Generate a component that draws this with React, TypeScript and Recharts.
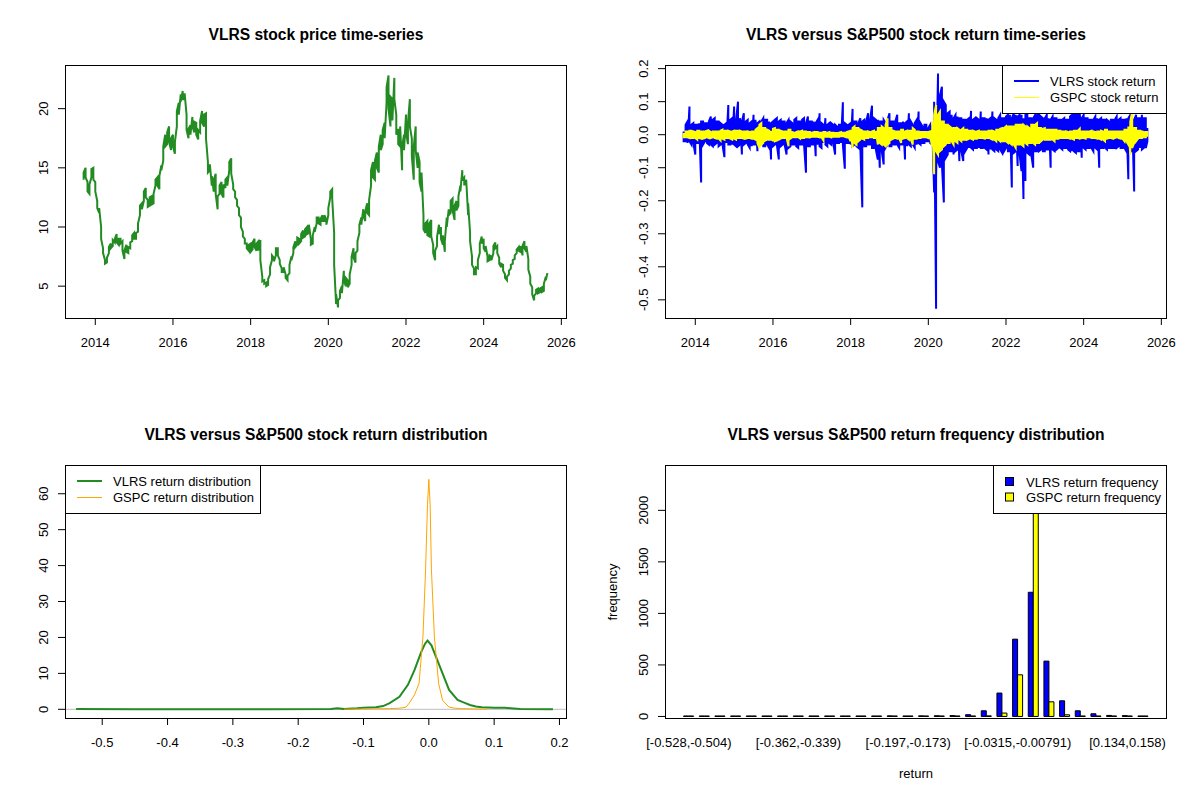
import React from 'react';
import { LineChart, Line, XAxis, YAxis, BarChart, Bar, ReferenceLine, Legend } from 'recharts';

const FONT = '"Liberation Sans", Arial, Helvetica, sans-serif';

// ---- time axis (decimal years) ----
const dates = [
  2013.70, 2013.75, 2013.80, 2013.85, 2013.90, 2013.95,
  2014.00, 2014.05, 2014.10, 2014.15, 2014.20, 2014.25, 2014.30, 2014.35, 2014.40, 2014.45, 2014.50, 2014.55, 2014.60, 2014.65, 2014.70, 2014.75, 2014.80, 2014.85, 2014.90, 2014.95,
  2015.00, 2015.05, 2015.10, 2015.15, 2015.20, 2015.25, 2015.30, 2015.35, 2015.40, 2015.45, 2015.50, 2015.55, 2015.60, 2015.65, 2015.70, 2015.75, 2015.80, 2015.85, 2015.90, 2015.95,
  2016.00, 2016.05, 2016.10, 2016.15, 2016.20, 2016.25, 2016.30, 2016.35, 2016.40, 2016.45, 2016.50, 2016.55, 2016.60, 2016.65, 2016.70, 2016.75, 2016.80, 2016.85, 2016.90, 2016.95,
  2017.00, 2017.05, 2017.10, 2017.15, 2017.20, 2017.25, 2017.30, 2017.35, 2017.40, 2017.45, 2017.50, 2017.55, 2017.60, 2017.65, 2017.70, 2017.75, 2017.80, 2017.85, 2017.90, 2017.95,
  2018.00, 2018.05, 2018.10, 2018.15, 2018.20, 2018.25, 2018.30, 2018.35, 2018.40, 2018.45, 2018.50, 2018.55, 2018.60, 2018.65, 2018.70, 2018.75, 2018.80, 2018.85, 2018.90, 2018.95,
  2019.00, 2019.05, 2019.10, 2019.15, 2019.20, 2019.25, 2019.30, 2019.35, 2019.40, 2019.45, 2019.50, 2019.55, 2019.60, 2019.65, 2019.70, 2019.75, 2019.80, 2019.85, 2019.90, 2019.95,
  2020.00, 2020.05, 2020.10, 2020.15, 2020.20, 2020.25, 2020.30, 2020.35, 2020.40, 2020.45, 2020.50, 2020.55, 2020.60, 2020.65, 2020.70, 2020.75, 2020.80, 2020.85, 2020.90, 2020.95,
  2021.00, 2021.05, 2021.10, 2021.15, 2021.20, 2021.25, 2021.30, 2021.35, 2021.40, 2021.45, 2021.50, 2021.55, 2021.60, 2021.65, 2021.70, 2021.75, 2021.80, 2021.85, 2021.90, 2021.95,
  2022.00, 2022.05, 2022.10, 2022.15, 2022.20, 2022.25, 2022.30, 2022.35, 2022.40, 2022.45, 2022.50, 2022.55, 2022.60, 2022.65, 2022.70, 2022.75, 2022.80, 2022.85, 2022.90, 2022.95,
  2023.00, 2023.05, 2023.10, 2023.15, 2023.20, 2023.25, 2023.30, 2023.35, 2023.40, 2023.45, 2023.50, 2023.55, 2023.60, 2023.65, 2023.70, 2023.75, 2023.80, 2023.85, 2023.90, 2023.95,
  2024.00, 2024.05, 2024.10, 2024.15, 2024.20, 2024.25, 2024.30, 2024.35, 2024.40, 2024.45, 2024.50, 2024.55, 2024.60, 2024.65, 2024.70, 2024.75, 2024.80, 2024.85, 2024.90, 2024.95,
  2025.00, 2025.05, 2025.10, 2025.15, 2025.20, 2025.25, 2025.30, 2025.35, 2025.40, 2025.45, 2025.50, 2025.55, 2025.60, 2025.64,
];

// first and second price reading in each period
const vlrsPrice = [
  14.0, 15.0, 13.8, 12.8, 14.2, 15.0,
  13.8, 12.2, 11.2, 10.0, 8.2, 7.2, 7.0, 7.8, 8.6, 8.4, 8.7, 9.4, 8.5, 9.0, 8.8, 7.3, 8.5, 7.8, 8.2, 8.8,
  9.5, 9.0, 9.6, 11.0, 12.0, 12.2, 13.3, 12.3, 11.8, 12.6, 12.0, 13.5, 14.2, 13.2, 15.2, 15.6, 17.8, 17.0, 18.5, 16.5,
  17.8, 16.2, 18.5, 20.5, 21.2, 21.5, 20.8, 19.5, 17.5, 18.6, 19.3, 18.0, 18.8, 17.4, 18.0, 19.8, 18.5, 19.6, 15.5, 14.8,
  13.5, 13.0, 14.5, 11.5, 12.8, 13.8, 12.5, 13.3, 14.2, 14.8, 15.8, 13.6, 13.0, 12.3, 11.6, 10.8, 9.6, 9.0, 8.6, 8.0,
  8.6, 8.1, 9.0, 8.0, 8.8, 8.9, 5.8, 5.5, 5.3, 5.1, 6.0, 7.2, 7.4, 7.6, 8.2, 7.2, 6.5, 6.2, 6.0, 5.5,
  6.1, 7.5, 7.8, 8.8, 8.5, 9.0, 8.8, 9.7, 9.2, 10.0, 9.5, 9.0, 8.6, 10.0, 10.3, 10.8, 10.2, 11.0, 10.5, 10.6,
  11.0, 12.5, 13.2, 9.5, 3.5, 3.2, 4.0, 5.0, 6.3, 5.0, 5.5, 5.2, 6.8, 8.2, 7.0, 8.0, 9.5, 10.8, 11.5, 10.5,
  12.0, 11.0, 13.5, 15.5, 14.0, 16.3, 14.6, 17.8, 17.0, 18.8, 20.5, 22.8, 18.5, 20.8, 22.6, 19.5, 18.3, 16.8, 14.8, 17.8,
  19.5, 17.0, 20.8, 17.5, 14.0, 18.5, 15.0, 15.5, 13.0, 11.0, 9.5, 10.5, 9.2, 10.6, 8.5, 7.2, 8.4, 10.2, 10.0, 8.5,
  7.9, 10.8, 11.5, 11.2, 12.4, 10.6, 12.2, 11.8, 13.5, 14.8, 14.2, 13.6, 11.0, 9.5, 7.5, 6.5, 6.0, 6.5, 7.8, 9.2,
  9.0, 7.9, 7.5, 7.2, 7.5, 7.8, 8.7, 8.4, 7.4, 6.6, 6.8, 6.0, 5.5, 6.0, 6.5, 6.9, 7.3, 7.8, 8.3, 7.9,
  7.6, 8.8, 7.9, 7.3, 5.8, 4.9, 3.8, 4.4, 4.8, 4.5, 4.9, 4.6, 5.8, 6.1,
];
const vlrsPrice2 = [
  14.6, 14.2, 13.0, 13.6, 14.9, 14.0,
  13.0, 11.6, 11.6, 9.0, 7.8, 6.9, 7.4, 8.3, 8.2, 8.9, 9.0, 8.7, 9.0, 8.6, 8.0, 8.0, 7.9, 8.3, 8.7, 9.3,
  9.0, 9.5, 10.3, 11.8, 11.5, 13.0, 12.5, 11.7, 12.5, 11.9, 12.8, 14.0, 13.5, 14.3, 14.8, 16.8, 16.8, 18.0, 17.2, 17.5,
  16.8, 17.2, 19.8, 19.5, 20.6, 20.8, 21.3, 18.2, 18.3, 17.8, 18.5, 18.9, 17.8, 18.2, 19.0, 18.8, 19.5, 17.5, 14.6, 15.3,
  14.3, 14.0, 12.8, 12.6, 13.5, 12.8, 13.6, 14.0, 13.5, 15.5, 14.5, 13.2, 12.5, 11.8, 11.0, 10.0, 9.2, 8.6, 8.2, 8.5,
  7.9, 8.7, 8.3, 8.6, 8.0, 7.2, 5.4, 5.2, 5.0, 5.6, 6.6, 7.6, 7.1, 8.2, 7.6, 6.9, 6.2, 6.6, 5.7, 5.9,
  6.8, 7.2, 8.3, 8.3, 9.1, 8.6, 9.4, 9.1, 9.8, 9.4, 10.2, 8.5, 9.3, 9.6, 10.8, 10.3, 10.7, 10.5, 11.0, 10.2,
  11.6, 13.0, 12.4, 6.8, 4.3, 3.8, 4.6, 4.4, 5.5, 5.7, 4.9, 6.0, 7.5, 7.4, 7.8, 8.8, 10.2, 10.2, 11.0, 11.3,
  11.2, 12.3, 14.8, 14.2, 15.6, 15.0, 16.8, 16.5, 18.2, 17.5, 21.8, 20.0, 21.0, 19.0, 20.8, 17.8, 17.0, 18.5, 16.8, 16.5,
  18.0, 18.8, 18.5, 16.0, 16.8, 16.5, 16.3, 13.8, 14.6, 9.8, 10.3, 9.3, 10.3, 9.2, 7.8, 8.0, 9.2, 9.4, 9.0, 9.3,
  8.8, 10.0, 11.0, 12.2, 11.4, 11.8, 11.4, 12.6, 13.0, 14.0, 13.6, 14.0, 12.0, 8.8, 6.8, 6.0, 6.6, 7.2, 8.6, 8.6,
  8.2, 8.4, 7.1, 7.6, 7.2, 8.4, 8.2, 7.8, 6.9, 6.9, 6.3, 5.7, 5.8, 6.3, 6.8, 7.2, 7.6, 8.1, 8.0, 8.4,
  8.4, 8.2, 8.4, 6.4, 5.2, 4.3, 4.2, 4.7, 4.4, 4.8, 4.5, 5.2, 5.5, 6.0,
];

// first and second return reading in each period
const vlrsReturn = [
  0.01, -0.02, 0.04, 0.085, -0.03, 0.035,
  -0.06, 0.03, -0.025, -0.145, 0.04, -0.02, 0.035, -0.03, 0.055, -0.035, 0.05, -0.025, 0.04, -0.03, 0.03, -0.068, 0.035, 0.09, -0.03, 0.05,
  0.085, -0.035, 0.10, -0.03, -0.06, 0.065, -0.025, 0.045, -0.04, 0.04, 0.06, -0.03, -0.05, 0.04, -0.025, 0.05, -0.035, 0.045, -0.04, -0.075,
  0.04, -0.03, 0.05, -0.075, 0.045, -0.03, 0.04, -0.06, 0.045, -0.035, 0.035, -0.03, 0.05, -0.04, 0.04, -0.03, 0.05, -0.115, 0.055, -0.035,
  0.04, -0.03, -0.065, 0.045, 0.065, -0.04, 0.03, 0.05, -0.035, 0.035, -0.03, 0.03, -0.06, 0.025, -0.025, 0.03, 0.098, -0.103, 0.03, -0.025,
  0.035, 0.078, -0.03, 0.04, -0.04, 0.05, -0.22, 0.045, -0.035, 0.065, -0.03, 0.088, -0.04, 0.045, -0.075, -0.1, 0.04, -0.09, 0.035, -0.03,
  0.065, -0.035, 0.04, -0.03, 0.06, -0.04, 0.035, -0.03, -0.075, 0.04, 0.065, -0.035, 0.03, -0.04, 0.045, 0.07, -0.03, 0.025, -0.025, 0.03,
  -0.02, 0.03, -0.03, -0.175, -0.527, 0.185, -0.10, 0.145, -0.205, 0.09, -0.06, 0.07, -0.05, -0.06, 0.06, -0.045, -0.08, 0.05, -0.08, 0.045,
  -0.04, 0.05, 0.072, -0.045, 0.05, -0.04, 0.045, 0.07, -0.04, 0.05, -0.045, -0.06, 0.05, 0.07, -0.05, 0.045, -0.05, 0.06, -0.055, 0.05,
  -0.04, 0.06, -0.05, -0.16, 0.065, -0.05, -0.095, 0.06, -0.11, -0.195, -0.14, 0.07, -0.06, 0.05, -0.1, 0.06, -0.05, 0.065, -0.045, 0.05,
  -0.05, 0.06, -0.045, -0.1, 0.055, -0.05, 0.05, -0.04, 0.045, -0.045, 0.05, -0.04, 0.045, -0.05, 0.06, 0.07, -0.055, 0.07, -0.05, -0.07,
  0.06, -0.045, 0.05, -0.04, 0.045, -0.05, 0.055, -0.045, -0.1, 0.05, -0.04, 0.045, -0.045, 0.04, -0.04, 0.045, -0.04, 0.055, -0.035, 0.05,
  -0.04, 0.045, -0.05, -0.135, 0.06, -0.05, -0.172, 0.06, -0.045, 0.05, 0.06, -0.04, 0.05, -0.02,
];
const vlrsReturn2 = [
  -0.02, 0.03, -0.025, -0.02, 0.03, -0.025,
  0.03, -0.025, 0.035, 0.04, -0.03, 0.035, -0.025, 0.04, -0.03, 0.045, -0.03, 0.04, -0.035, 0.035, -0.03, 0.03, -0.025, -0.03, 0.045, -0.03,
  -0.03, 0.045, -0.035, 0.05, 0.04, -0.03, 0.04, -0.03, 0.035, -0.035, -0.03, 0.045, 0.035, -0.03, 0.04, -0.035, 0.045, -0.03, 0.04, 0.035,
  -0.035, 0.045, -0.03, 0.04, -0.035, 0.04, -0.03, 0.035, -0.04, 0.04, -0.03, 0.045, -0.035, 0.04, -0.03, 0.045, -0.03, 0.035, -0.035, 0.04,
  -0.03, 0.04, 0.035, -0.03, -0.035, 0.035, -0.025, -0.03, 0.03, -0.025, 0.035, -0.025, 0.03, -0.025, 0.03, -0.025, -0.03, 0.035, -0.025, 0.03,
  -0.03, -0.035, 0.04, -0.035, 0.035, -0.04, 0.04, -0.035, 0.04, -0.03, 0.045, -0.04, 0.05, -0.045, 0.045, 0.04, -0.05, 0.045, -0.04, 0.045,
  -0.035, 0.04, -0.03, 0.04, -0.03, 0.035, -0.03, 0.04, 0.035, -0.035, -0.03, 0.04, -0.03, 0.035, -0.03, -0.025, 0.035, -0.025, 0.03, -0.02,
  0.02, -0.025, 0.03, 0.1, -0.13, -0.08, 0.12, -0.09, 0.1, -0.07, 0.065, -0.05, 0.06, 0.05, -0.05, 0.055, 0.05, -0.05, 0.045, -0.05,
  0.045, -0.04, -0.04, 0.045, -0.04, 0.05, -0.04, -0.04, 0.05, -0.04, 0.05, 0.045, -0.045, -0.045, 0.05, -0.045, 0.05, -0.045, 0.05, -0.05,
  0.055, -0.05, 0.06, 0.05, -0.055, 0.06, 0.055, -0.06, 0.06, 0.05, 0.06, -0.055, 0.05, -0.06, 0.05, -0.05, 0.06, -0.05, 0.055, -0.05,
  0.05, -0.045, 0.05, 0.045, -0.045, 0.05, -0.045, 0.045, -0.04, 0.045, -0.04, 0.045, -0.045, 0.055, -0.05, -0.05, 0.065, -0.05, 0.065, 0.05,
  -0.04, 0.05, -0.04, 0.045, -0.04, 0.045, -0.04, 0.05, 0.045, -0.04, 0.045, -0.04, 0.045, -0.04, 0.045, -0.04, 0.045, -0.04, 0.045, -0.04,
  0.045, -0.04, 0.05, 0.05, -0.05, 0.05, 0.045, -0.05, 0.05, -0.04, -0.045, 0.05, -0.04, 0.02,
];

const gspcReturn = [
  0.005, -0.008, 0.01, -0.01, 0.012, -0.01,
  0.008, -0.015, 0.012, -0.012, 0.01, -0.01, 0.012, -0.01, 0.008, -0.008, 0.01, -0.012, 0.01, -0.018, 0.015, -0.015, 0.012, -0.01, 0.01, -0.015,
  0.012, -0.015, 0.012, -0.01, 0.01, -0.012, 0.01, -0.01, 0.008, -0.012, 0.01, -0.015, 0.02, -0.04, 0.035, -0.025, 0.02, -0.015, 0.012, -0.015,
  -0.02, 0.02, -0.018, 0.015, -0.012, 0.01, -0.01, 0.01, -0.035, 0.015, -0.008, 0.006, -0.008, 0.01, -0.012, 0.012, -0.01, 0.01, -0.008, 0.008,
  -0.006, 0.008, -0.006, 0.008, -0.008, 0.006, -0.018, 0.008, -0.006, 0.008, -0.008, 0.006, -0.006, 0.005, -0.006, 0.008, -0.005, 0.006, -0.008, 0.01,
  -0.02, -0.04, 0.025, -0.03, 0.02, -0.015, 0.012, -0.015, 0.01, -0.01, 0.008, -0.008, 0.012, -0.01, -0.03, 0.02, -0.03, 0.02, -0.035, 0.05,
  -0.025, 0.02, -0.012, 0.01, -0.012, 0.01, -0.025, 0.015, -0.01, 0.012, -0.015, 0.012, -0.03, 0.015, -0.012, 0.01, -0.01, 0.008, -0.008, 0.008,
  -0.01, 0.01, -0.035, -0.12, 0.09, -0.06, 0.07, -0.045, 0.04, -0.03, 0.03, -0.025, 0.02, -0.03, 0.02, -0.025, 0.015, -0.02, 0.02, -0.015,
  0.015, -0.012, 0.012, -0.015, 0.01, -0.012, 0.012, -0.01, 0.01, -0.012, 0.01, -0.01, 0.012, -0.015, 0.01, -0.02, 0.015, -0.02, 0.02, -0.02,
  0.025, -0.025, 0.025, -0.03, 0.025, -0.04, 0.03, -0.03, 0.03, -0.035, 0.025, -0.03, 0.02, -0.025, 0.03, -0.03, 0.035, -0.025, 0.02, -0.015,
  0.02, -0.015, 0.015, -0.015, 0.015, -0.02, 0.015, -0.012, 0.012, -0.01, 0.01, -0.01, 0.008, -0.012, 0.01, -0.015, 0.012, -0.01, 0.018, -0.01,
  0.01, -0.012, 0.01, -0.008, 0.012, -0.01, 0.008, -0.012, 0.01, -0.015, 0.01, -0.02, 0.015, -0.01, 0.01, -0.012, 0.01, -0.008, 0.01, -0.012,
  0.01, -0.02, 0.015, -0.03, -0.06, 0.07, -0.025, 0.02, -0.012, 0.012, -0.01, 0.008, -0.008, 0.008,
];
const gspcReturn2 = [
  -0.008, 0.01, -0.008, 0.012, -0.01, 0.01,
  -0.01, 0.012, -0.01, 0.01, -0.012, 0.01, -0.008, 0.012, -0.01, 0.01, -0.01, 0.01, -0.012, 0.012, -0.012, 0.012, -0.01, 0.012, -0.012, 0.01,
  -0.012, 0.012, -0.01, 0.012, -0.01, 0.01, -0.012, 0.01, -0.01, 0.01, -0.012, 0.015, -0.025, 0.03, -0.03, 0.02, -0.018, 0.015, -0.015, 0.012,
  0.018, -0.02, 0.015, -0.015, 0.012, -0.01, 0.01, -0.01, 0.015, -0.012, 0.008, -0.008, 0.008, -0.008, 0.01, -0.01, 0.01, -0.008, 0.008, -0.008,
  0.006, -0.006, 0.008, -0.006, 0.006, -0.008, 0.008, -0.006, 0.006, -0.006, 0.006, -0.006, 0.005, -0.006, 0.006, -0.005, 0.006, -0.006, 0.008, -0.008,
  0.015, 0.02, -0.025, 0.02, -0.02, 0.015, -0.012, 0.01, -0.01, 0.01, -0.008, 0.01, -0.01, 0.012, 0.02, -0.025, 0.025, -0.03, 0.03, -0.03,
  0.02, -0.015, 0.012, -0.01, 0.01, -0.012, 0.015, -0.012, 0.01, -0.01, 0.012, -0.015, 0.02, -0.012, 0.01, -0.01, 0.008, -0.008, 0.008, -0.008,
  0.008, -0.01, 0.04, 0.06, -0.05, 0.06, -0.05, 0.04, -0.035, 0.03, -0.025, 0.025, -0.02, 0.02, -0.02, 0.02, -0.015, 0.015, -0.015, 0.015,
  -0.015, 0.012, -0.012, 0.012, -0.012, 0.01, -0.01, 0.01, -0.01, 0.01, -0.01, 0.012, -0.012, 0.012, -0.015, 0.015, -0.015, 0.018, -0.02, 0.02,
  -0.02, 0.025, -0.025, 0.025, -0.03, 0.03, -0.03, 0.03, -0.03, 0.03, -0.025, 0.025, -0.025, 0.03, -0.025, 0.03, -0.025, 0.02, -0.02, 0.018,
  -0.015, 0.015, -0.015, 0.015, -0.015, 0.015, -0.012, 0.012, -0.01, 0.01, -0.01, 0.01, -0.01, 0.01, -0.012, 0.012, -0.01, 0.012, -0.012, 0.01,
  -0.01, 0.01, -0.008, 0.01, -0.01, 0.01, -0.01, 0.01, -0.012, 0.012, -0.015, 0.015, -0.012, 0.01, -0.01, 0.01, -0.01, 0.01, -0.01, 0.01,
  -0.012, 0.015, -0.02, 0.025, 0.04, -0.04, 0.02, -0.02, 0.012, -0.01, 0.01, -0.008, 0.008, -0.006,
];

// ---- density estimates ----
const vlrsDensX = [-0.54, -0.45, -0.35, -0.25, -0.15, -0.14, -0.13, -0.11, -0.1, -0.09, -0.081, -0.07, -0.06, -0.045, -0.032, -0.022, -0.012, -0.006, -0.002, 0.004, 0.011, 0.021, 0.031, 0.044, 0.055, 0.063, 0.072, 0.081, 0.1, 0.116, 0.125, 0.14, 0.19];
const vlrsDensY = [0.1, 0.05, 0.05, 0.05, 0.1, 0.3, 0.1, 0.3, 0.45, 0.5, 0.56, 0.9, 1.7, 3.5, 6.8, 10.9, 15.8, 18.2, 19.1, 17.8, 14.6, 10.0, 5.4, 2.6, 1.8, 1.2, 0.8, 0.55, 0.4, 0.4, 0.3, 0.1, 0.05];
const gspcDensX = [-0.13, -0.1, -0.08, -0.06, -0.045, -0.035, -0.03, -0.022, -0.015, -0.009, -0.005, -0.002, 0, 0.002, 0.004, 0.0085, 0.015, 0.021, 0.031, 0.04, 0.05, 0.07, 0.09];
const gspcDensY = [0.05, 0.1, 0.15, 0.2, 0.3, 0.6, 1.7, 4.0, 7.2, 20.2, 38.8, 57.0, 64.0, 57.0, 38.8, 20.2, 7.2, 2.5, 0.6, 0.3, 0.2, 0.1, 0.05];

// ---- frequency table ----
const binLabels = [
  '[-0.528,-0.504)', '[-0.504,-0.481)', '[-0.481,-0.457)', '[-0.457,-0.433)', '[-0.433,-0.41)',
  '[-0.41,-0.386)', '[-0.386,-0.362)', '[-0.362,-0.339)', '[-0.339,-0.315)', '[-0.315,-0.291)',
  '[-0.291,-0.268)', '[-0.268,-0.244)', '[-0.244,-0.221)', '[-0.221,-0.197)', '[-0.197,-0.173)',
  '[-0.173,-0.15)', '[-0.15,-0.126)', '[-0.126,-0.102)', '[-0.102,-0.0787)', '[-0.0787,-0.0551)',
  '[-0.0551,-0.0315)', '[-0.0315,-0.00791)', '[-0.00791,0.0157)', '[0.0157,0.0393)', '[0.0393,0.0629)',
  '[0.0629,0.0865)', '[0.0865,0.11)', '[0.11,0.134)', '[0.134,0.158)', '[0.158,0.182]',
];
const vlrsFreq = [1, 0, 0, 0, 0, 0, 0, 0, 0, 0, 0, 0, 0, 6, 2, 6, 7, 8, 17, 55, 227, 750, 1205, 537, 152, 55, 26, 10, 8, 3];
const gspcFreq = [0, 0, 0, 0, 0, 0, 0, 0, 0, 0, 0, 0, 0, 0, 0, 0, 0, 1, 3, 6, 33, 404, 2420, 142, 16, 4, 1, 0, 0, 0];

// ---- axis ticks ----
const yearTicks = [2014, 2016, 2018, 2020, 2022, 2024, 2026];
const priceTicks = [5, 10, 15, 20];
const returnTicks = [-0.5, -0.4, -0.3, -0.2, -0.1, 0, 0.1, 0.2];
const densXTicks = [-0.5, -0.4, -0.3, -0.2, -0.1, 0, 0.1, 0.2];
const densYTicks = [0, 10, 20, 30, 40, 50, 60];
const freqTicks = [0, 500, 1000, 1500, 2000];

// ---- titles / legends ----
const titles = [
  'VLRS stock price time-series',
  'VLRS versus S&P500 stock return time-series',
  'VLRS versus S&P500 stock return distribution',
  'VLRS versus S&P500 return frequency distribution',
];
const returnLegend = [
  { label: 'VLRS stock return', color: '#0000FF', width: 2 },
  { label: 'GSPC stock return', color: '#FFFF00', width: 1 },
];
const densLegend = [
  { label: 'VLRS return distribution', color: '#228B22', width: 2 },
  { label: 'GSPC return distribution', color: '#FFA500', width: 1 },
];
const freqLegend = [
  { label: 'VLRS return frequency', color: '#0000FF' },
  { label: 'GSPC return frequency', color: '#FFFF00' },
];

// tables built from the arrays: two readings per period
const priceData = dates.flatMap((t, i) => [
  { t, price: vlrsPrice[i] },
  { t, price: vlrsPrice2[i] },
]);
const returnData = dates.flatMap((t, i) => [
  { t, vlrs: vlrsReturn[i], gspc: gspcReturn[i] },
  { t, vlrs: vlrsReturn2[i], gspc: gspcReturn2[i] },
]);
const vlrsDensity = vlrsDensX.map((x, i) => ({ x, y: vlrsDensY[i] }));
const gspcDensity = gspcDensX.map((x, i) => ({ x, y: gspcDensY[i] }));
const freqData = binLabels.map((label, i) => ({ label, vlrs: vlrsFreq[i], gspc: gspcFreq[i] }));

const W = 600;
const H = 400;
const MARGIN = { top: 65, right: 34, left: 15, bottom: 52 };
const TICK_STYLE = { fontSize: 13, fill: '#000', fontFamily: FONT };

const fmt1 = (v: number) => v.toFixed(1);
const fmt0 = (v: number) => String(v);

const makeYTick = (fmt: (v: number) => string) => (props: any) => {
  const { x, y, payload } = props;
  return (
    <text
      x={x}
      y={y}
      transform={`rotate(-90 ${x} ${y})`}
      textAnchor="middle"
      fontSize={13}
      fontFamily={FONT}
      fill="#000"
    >
      {fmt(payload.value)}
    </text>
  );
};

const LineLegendBox = ({ items, width }: { items: any[]; width: number }) => (
  <svg width={width} height={49} style={{ display: 'block' }}>
    <rect x={0.5} y={0.5} width={width - 1} height={48} fill="#fff" stroke="#000" />
    {items.map((it, i) => (
      <g key={it.label}>
        <line x1={12} x2={37} y1={16 + i * 16.5} y2={16 + i * 16.5} stroke={it.color} strokeWidth={it.width} />
        <text x={48} y={16 + i * 16.5} dominantBaseline="central" fontSize={13} fontFamily={FONT} fill="#000">
          {it.label}
        </text>
      </g>
    ))}
  </svg>
);

const BoxLegendBox = ({ items, width }: { items: any[]; width: number }) => (
  <svg width={width} height={49} style={{ display: 'block' }}>
    <rect x={0.5} y={0.5} width={width - 1} height={48} fill="#fff" stroke="#000" />
    {items.map((it, i) => (
      <g key={it.label}>
        <rect x={12.5} y={12.5 + i * 15.5} width={8} height={8} fill={it.color} stroke="#000" />
        <text x={33} y={17 + i * 15.5} dominantBaseline="central" fontSize={13} fontFamily={FONT} fill="#000">
          {it.label}
        </text>
      </g>
    ))}
  </svg>
);

const Panel = ({ left, top, title, children }: any) => (
  <div style={{ position: 'absolute', left, top, width: W, height: H }}>
    {children}
    <div
      style={{
        position: 'absolute',
        left: 65,
        top: 26,
        width: 502,
        textAlign: 'center',
        fontFamily: FONT,
        fontWeight: 'bold',
        fontSize: 15.6,
        lineHeight: '18px',
        color: '#000',
        whiteSpace: 'nowrap',
      }}
    >
      {title}
    </div>
    <div
      style={{
        position: 'absolute',
        left: 65,
        top: 65,
        width: 502,
        height: 254,
        border: '1px solid #000',
        boxSizing: 'border-box',
        pointerEvents: 'none',
      }}
    />
  </div>
);

const xYearAxis = (
  <XAxis
    dataKey="t"
    type="number"
    domain={[2013.22, 2026.12]}
    ticks={yearTicks}
    allowDataOverflow
    height={30}
    tickSize={7}
    tickMargin={13}
    axisLine={false}
    stroke="#000"
    tick={TICK_STYLE}
    interval={0}
  />
);

export default function App() {
  return (
    <div style={{ position: 'absolute', left: 0, top: 0, width: 1200, height: 800, background: '#fff', overflow: 'hidden' }}>
      {/* Panel 1: price */}
      <Panel left={0} top={0} title={titles[0]}>
        <LineChart width={W} height={H} data={priceData} margin={MARGIN}>
          {xYearAxis}
          <YAxis
            type="number"
            domain={[2.31, 23.69]}
            ticks={priceTicks}
            allowDataOverflow
            width={50}
            tickSize={7}
            tickMargin={10}
            axisLine={false}
            stroke="#000"
            tick={makeYTick(fmt0)}
            interval={0}
          />
          <Line type="linear" dataKey="price" stroke="#228B22" strokeWidth={2} dot={false} isAnimationActive={false} />
        </LineChart>
      </Panel>

      {/* Panel 2: returns */}
      <Panel left={600} top={0} title={titles[1]}>
        <LineChart width={W} height={H} data={returnData} margin={MARGIN}>
          {xYearAxis}
          <YAxis
            type="number"
            domain={[-0.555, 0.211]}
            ticks={returnTicks}
            allowDataOverflow
            width={50}
            tickSize={7}
            tickMargin={10}
            axisLine={false}
            stroke="#000"
            tick={makeYTick(fmt1)}
            interval={0}
          />
          <Line type="linear" dataKey="vlrs" stroke="#0000FF" strokeWidth={2} dot={false} isAnimationActive={false} />
          <Line type="linear" dataKey="gspc" stroke="#FFFF00" strokeWidth={2} dot={false} isAnimationActive={false} />
          <Legend
            layout="horizontal"
            verticalAlign="middle"
            align="center"
            wrapperStyle={{ left: 402, top: 65, width: 165, height: 49, lineHeight: 0 }}
            content={() => <LineLegendBox items={returnLegend} width={165} />}
          />
        </LineChart>
      </Panel>

      {/* Panel 3: density */}
      <Panel left={0} top={400} title={titles[2]}>
        <LineChart width={W} height={H} margin={MARGIN}>
          <XAxis
            dataKey="x"
            type="number"
            domain={[-0.557, 0.21]}
            ticks={densXTicks}
            allowDataOverflow
            height={30}
            tickSize={7}
            tickMargin={13}
            axisLine={false}
            stroke="#000"
            tick={TICK_STYLE}
            tickFormatter={fmt1}
            interval={0}
          />
          <YAxis
            type="number"
            domain={[-2.42, 68.0]}
            ticks={densYTicks}
            allowDataOverflow
            width={50}
            tickSize={7}
            tickMargin={10}
            axisLine={false}
            stroke="#000"
            tick={makeYTick(fmt0)}
            interval={0}
          />
          <ReferenceLine y={0} stroke="#BEBEBE" strokeWidth={1} />
          <Line data={vlrsDensity} type="linear" dataKey="y" stroke="#228B22" strokeWidth={2} dot={false} isAnimationActive={false} />
          <Line data={gspcDensity} type="linear" dataKey="y" stroke="#FFA500" strokeWidth={1} dot={false} isAnimationActive={false} />
          <Legend
            layout="horizontal"
            verticalAlign="middle"
            align="center"
            wrapperStyle={{ left: 65, top: 65, width: 196, height: 49, lineHeight: 0 }}
            content={() => <LineLegendBox items={densLegend} width={196} />}
          />
        </LineChart>
      </Panel>

      {/* Panel 4: frequency */}
      <Panel left={600} top={400} title={titles[3]}>
        <BarChart width={W} height={H} data={freqData} margin={MARGIN} barCategoryGap={2.6} barGap={0}>
          <XAxis
            dataKey="label"
            type="category"
            height={30}
            tickSize={7}
            tickMargin={13}
            tickLine={false}
            axisLine={false}
            tick={TICK_STYLE}
            interval={6}
            padding={{ left: 16, right: 15 }}
          />
          <YAxis
            type="number"
            domain={[-15, 2440]}
            ticks={freqTicks}
            allowDataOverflow
            width={50}
            tickSize={7}
            tickMargin={10}
            axisLine={false}
            stroke="#000"
            tick={makeYTick(fmt0)}
            interval={0}
          />
          <Bar dataKey="vlrs" fill="#0000FF" stroke="#000" strokeWidth={1} minPointSize={0.5} isAnimationActive={false} />
          <Bar dataKey="gspc" fill="#FFFF00" stroke="#000" strokeWidth={1} minPointSize={0.5} isAnimationActive={false} />
          <Legend
            layout="horizontal"
            verticalAlign="middle"
            align="center"
            wrapperStyle={{ left: 393, top: 65, width: 174, height: 49, lineHeight: 0 }}
            content={() => <BoxLegendBox items={freqLegend} width={174} />}
          />
        </BarChart>
        <div
          style={{
            position: 'absolute',
            left: 0,
            top: 191.5,
            width: 24,
            height: 0,
            fontFamily: FONT,
            fontSize: 13,
            color: '#000',
          }}
        >
          <div style={{ position: 'absolute', left: 12, top: 0, transform: 'translate(-50%, -50%) rotate(-90deg)', whiteSpace: 'nowrap' }}>
            frequency
          </div>
        </div>
        <div
          style={{
            position: 'absolute',
            left: 65,
            top: 366,
            width: 502,
            textAlign: 'center',
            fontFamily: FONT,
            fontSize: 13,
            lineHeight: '16px',
            color: '#000',
          }}
        >
          return
        </div>
      </Panel>
    </div>
  );
}
